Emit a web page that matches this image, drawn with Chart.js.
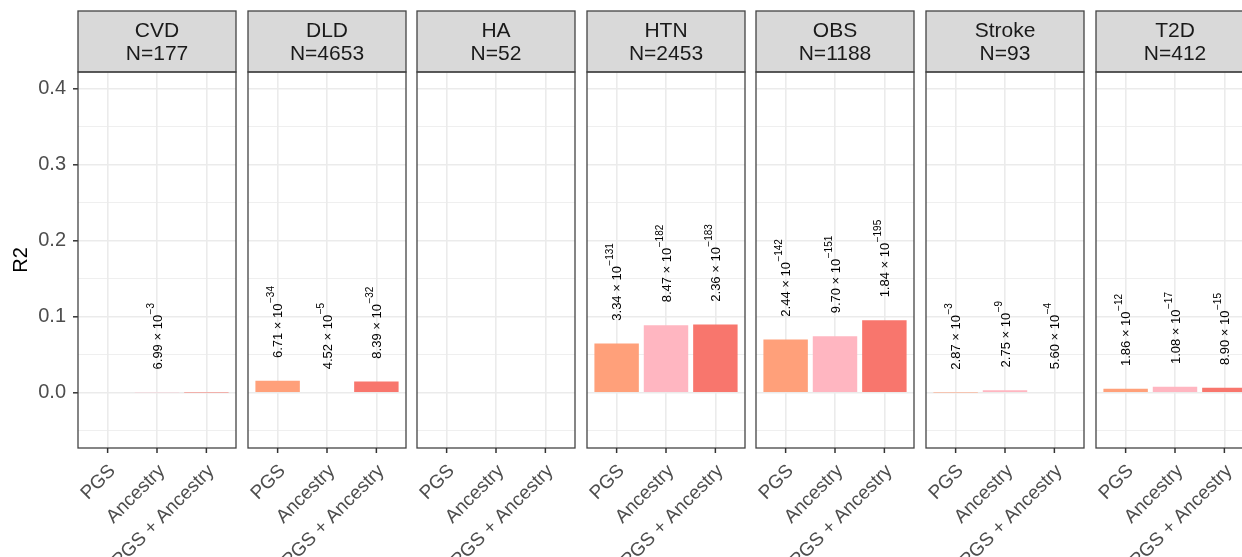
<!DOCTYPE html>
<html>
<head>
<meta charset="utf-8">
<title>R2 by trait</title>
<script src="https://cdn.jsdelivr.net/npm/chart.js@4.4.0/dist/chart.umd.min.js"></script>
<style>
  html, body { margin: 0; padding: 0; background: #ffffff; }
  #figure { position: relative; width: 1242px; height: 557px; overflow: hidden; background: #ffffff; }
  #figure canvas { position: absolute; top: 0; }
</style>
</head>
<body>
<div id="figure"></div>
<script>
// ---- data ----
const categories = ['PGS', 'Ancestry', 'PGS + Ancestry'];
const traits = ['CVD', 'DLD', 'HA', 'HTN', 'OBS', 'Stroke', 'T2D'];
const sampleSizes = [177, 4653, 52, 2453, 1188, 93, 412];

// R2 per model (PGS, Ancestry, PGS + Ancestry)
const r2CVD    = [null, 0.0008, 0.0006];
const r2DLD    = [0.0158, 0.0010, 0.0150];
const r2HA     = [null, null, null];
const r2HTN    = [0.0649, 0.0891, 0.0899];
const r2OBS    = [0.0702, 0.0746, 0.0956];
const r2Stroke = [0.0005, 0.0035, 0.0010];
const r2T2D    = [0.0053, 0.0079, 0.0066];

// p-values printed above the bars
const pCVD    = [null, '6.99e-3', null];
const pDLD    = ['6.71e-34', '4.52e-5', '8.39e-32'];
const pHA     = [null, null, null];
const pHTN    = ['3.34e-131', '8.47e-182', '2.36e-183'];
const pOBS    = ['2.44e-142', '9.70e-151', '1.84e-195'];
const pStroke = ['2.87e-3', '2.75e-9', '5.60e-4'];
const pT2D    = ['1.86e-12', '1.08e-17', '8.90e-15'];

const yTicks = [0, 0.1, 0.2, 0.3, 0.4];
const yMinorTicks = [-0.05, 0.05, 0.15, 0.25, 0.35];

const r2ByTrait = [r2CVD, r2DLD, r2HA, r2HTN, r2OBS, r2Stroke, r2T2D];
const pByTrait = [pCVD, pDLD, pHA, pHTN, pOBS, pStroke, pT2D];

// ---- styling / layout ----
const barColors = ['#FFA07A', '#FFB6C1', '#F8766D'];
const FONT = '"Liberation Sans", Arial, Helvetica, sans-serif';
const H = 557;
const AXIS_W = 78;
const PANEL_LEFT0 = 78;
const PANEL_PITCH = 169.6;
const PANEL_W = 158;
const STRIP_TOP = 11;
const PLOT_TOP = 72;
const PLOT_BOTTOM = 448;
const Y_MIN = -0.0725;
const Y_MAX = 0.422;
const LABEL_GAP = 0.03;   // distance from bar top to start of p-value text (data units)
const EDGE = '#444444';
const GRID = '#EBEBEB';

Chart.defaults.font.family = FONT;

// strip header above each panel
const stripPlugin = {
  id: 'strip',
  afterDraw(chart, args, opts) {
    const { ctx, chartArea } = chart;
    ctx.save();
    ctx.fillStyle = '#D9D9D9';
    ctx.fillRect(chartArea.left, STRIP_TOP, chartArea.right - chartArea.left, PLOT_TOP - STRIP_TOP);
    ctx.strokeStyle = EDGE;
    ctx.lineWidth = 1.3;
    ctx.strokeRect(chartArea.left, STRIP_TOP, chartArea.right - chartArea.left, PLOT_TOP - STRIP_TOP);
    ctx.fillStyle = '#1A1A1A';
    ctx.font = '21px ' + FONT;
    ctx.textAlign = 'center';
    ctx.textBaseline = 'middle';
    const cx = (chartArea.left + chartArea.right) / 2;
    ctx.fillText(opts.lines[0], cx, 31);
    ctx.fillText(opts.lines[1], cx, 54);
    ctx.restore();
  }
};

// panel frame and the tick marks under it
const framePlugin = {
  id: 'frame',
  afterDraw(chart) {
    const { ctx, chartArea } = chart;
    const xs = chart.scales.x;
    ctx.save();
    ctx.strokeStyle = EDGE;
    ctx.lineWidth = 1.3;
    ctx.strokeRect(chartArea.left, chartArea.top, chartArea.right - chartArea.left, chartArea.bottom - chartArea.top);
    ctx.strokeStyle = '#333333';
    ctx.lineWidth = 1.5;
    xs.ticks.forEach(t => {
      const x = xs.getPixelForValue(t.value);
      ctx.beginPath();
      ctx.moveTo(x, chartArea.bottom);
      ctx.lineTo(x, chartArea.bottom + 5);
      ctx.stroke();
    });
    ctx.restore();
  }
};

// vertical p-value labels written as m × 10^e
const pLabelPlugin = {
  id: 'pLabels',
  afterDatasetsDraw(chart, args, opts) {
    const { ctx } = chart;
    const xs = chart.scales.x, ys = chart.scales.y;
    const values = chart.data.datasets[0].data;
    ctx.save();
    ctx.fillStyle = '#000000';
    opts.labels.forEach((p, i) => {
      if (!p) return;
      const [m, e] = p.split('e');
      const v = values[i].y || 0;
      const x = xs.getPixelForValue(i);
      const y = ys.getPixelForValue(v + LABEL_GAP);
      ctx.save();
      ctx.translate(x, y);
      ctx.rotate(-Math.PI / 2);
      ctx.textAlign = 'left';
      ctx.textBaseline = 'middle';
      ctx.font = '13px ' + FONT;
      const main = m + ' \u00D7 10';
      ctx.fillText(main, 0, 1);
      const w = ctx.measureText(main).width;
      ctx.font = '10px ' + FONT;
      ctx.fillText(e.replace('-', '\u2212'), w + 0.5, -6);
      ctx.restore();
    });
    ctx.restore();
  }
};

const figure = document.getElementById('figure');

traits.forEach((trait, k) => {
  const first = k === 0;
  const canvas = document.createElement('canvas');
  const left = Math.round(PANEL_LEFT0 + k * PANEL_PITCH) - AXIS_W;
  const width = AXIS_W + PANEL_W + 3;
  canvas.width = width;
  canvas.height = H;
  canvas.style.left = left + 'px';
  canvas.style.width = width + 'px';
  canvas.style.height = H + 'px';
  figure.appendChild(canvas);

  const r2 = r2ByTrait[k];
  const isMajor = v => yTicks.some(t => Math.abs(t - v) < 1e-9);

  new Chart(canvas.getContext('2d'), {
    type: 'bar',
    data: {
      datasets: [{
        data: r2.map((v, i) => ({ x: i, y: v })),
        backgroundColor: barColors,
        borderWidth: 0,
        barPercentage: 0.9,
        categoryPercentage: 1.0
      }]
    },
    options: {
      responsive: false,
      animation: false,
      devicePixelRatio: 1,
      events: [],
      layout: { padding: { top: PLOT_TOP, right: 3, left: 0, bottom: 0 } },
      plugins: {
        legend: { display: false },
        tooltip: { enabled: false },
        strip: { lines: [trait, 'N=' + sampleSizes[k]] },
        pLabels: { labels: pByTrait[k] }
      },
      scales: {
        x: {
          type: 'linear',
          min: -0.6,
          max: 2.6,
          offset: false,
          afterBuildTicks: s => { s.ticks = categories.map((_, i) => ({ value: i })); },
          afterFit: s => { s.paddingLeft = 0; s.paddingRight = 0; s.height = H - PLOT_BOTTOM; },
          ticks: {
            autoSkip: false,
            minRotation: 45,
            maxRotation: 45,
            padding: 7,
            labelOffset: 5,
            color: '#4D4D4D',
            font: { size: 19 },
            callback: v => categories[v]
          },
          grid: { offset: false, color: GRID, lineWidth: 1.6, tickLength: 5, tickColor: 'rgba(0,0,0,0)' },
          border: { display: false }
        },
        y: {
          min: Y_MIN,
          max: Y_MAX,
          afterBuildTicks: s => {
            s.ticks = yMinorTicks.concat(yTicks).sort((a, b) => a - b).map(v => ({ value: v }));
          },
          afterFit: s => { s.width = AXIS_W; },
          ticks: {
            display: first,
            padding: 7,
            color: '#4D4D4D',
            font: { size: 20 },
            callback: v => isMajor(v) ? v.toFixed(1) : ''
          },
          grid: {
            color: GRID,
            lineWidth: ctx => isMajor(ctx.tick.value) ? 1.6 : 0.8,
            tickLength: 5,
            tickWidth: 1.5,
            tickColor: ctx => (first && isMajor(ctx.tick.value)) ? '#333333' : 'rgba(0,0,0,0)'
          },
          border: { display: false },
          title: {
            display: first,
            text: 'R2',
            color: '#000000',
            font: { size: 20 },
            padding: { top: 9, bottom: 0 }
          }
        }
      }
    },
    plugins: [stripPlugin, framePlugin, pLabelPlugin]
  });
});
</script>
</body>
</html>
